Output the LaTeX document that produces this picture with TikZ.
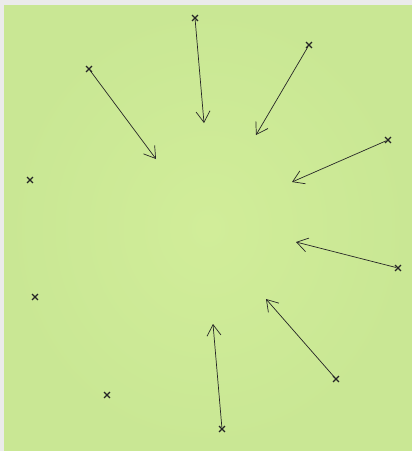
\documentclass[tikz,border=0pt]{standalone}
\usetikzlibrary{arrows.meta,shapes.misc}
\definecolor{framegray}{HTML}{EBEBEB}
\definecolor{greenout}{HTML}{C9E794}
\definecolor{greenin}{HTML}{D1ED99}
\definecolor{inkc}{HTML}{262626}
\tikzset{
  markx/.style={cross out, draw=inkc, line width=1.4pt, minimum size=4.5pt, inner sep=0pt},
  arr/.style={draw=inkc, line width=0.7pt, -{Straight Barb[length=11pt,width=14pt,line width=0.7pt]}, shorten <=-1pt}
}
\begin{document}
\begin{tikzpicture}[x=1pt,y=-1pt]
\useasboundingbox (0,0) rectangle (412,451);
\fill[framegray] (0,0) rectangle (412,451);
\shade[inner color=greenin, outer color=greenout] (4,5) rectangle (412,451);
% marks
\node[markx] (a) at (195,18) {};
\node[markx] (b) at (309,45) {};
\node[markx] (c) at (89,69) {};
\node[markx] (d) at (388,140) {};
\node[markx] (e) at (398,268) {};
\node[markx] (f) at (336,379) {};
\node[markx] (g) at (222,429) {};
\node[markx] (h) at (30,180) {};
\node[markx] (i) at (35,297) {};
\node[markx] (j) at (107,395) {};
% arrow tips
\coordinate (ta) at (204,123);
\coordinate (tb) at (256,135);
\coordinate (tc) at (156,159);
\coordinate (td) at (292,182);
\coordinate (te) at (296,242);
\coordinate (tf) at (266,299);
\coordinate (tg) at (213,324);
\draw[arr] (a) -- (ta);
\draw[arr] (b) -- (tb);
\draw[arr] (c) -- (tc);
\draw[arr] (d) -- (td);
\draw[arr] (e) -- (te);
\draw[arr] (f) -- (tf);
\draw[arr] (g) -- (tg);
\end{tikzpicture}
\end{document}
